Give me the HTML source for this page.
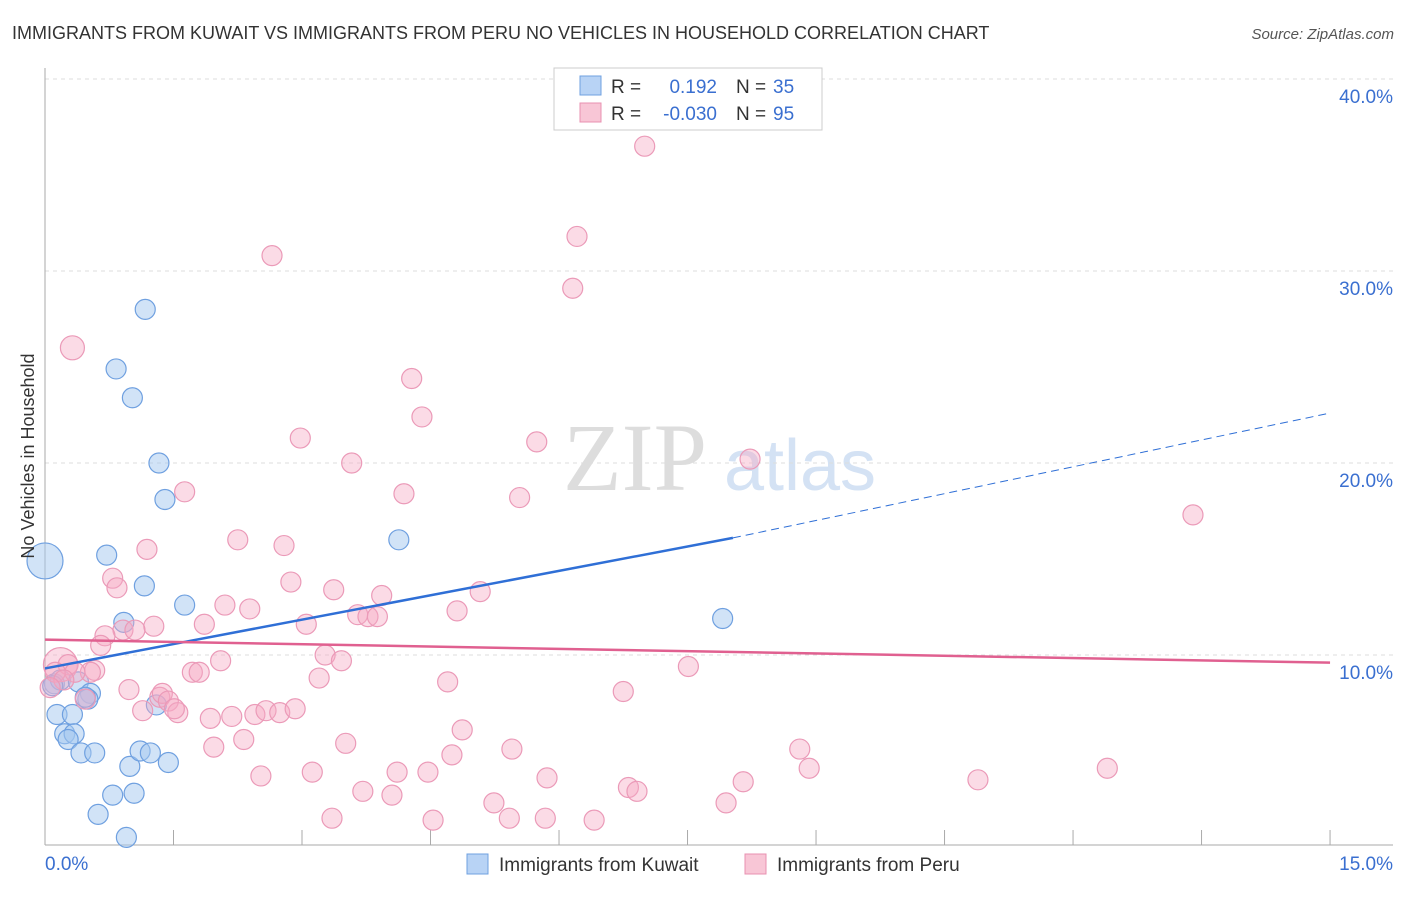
<!DOCTYPE html>
<html><head><meta charset="utf-8"><style>
body{margin:0;background:#fff;font-family:"Liberation Sans",sans-serif;}
</style></head><body>
<svg id="chart" width="1406" height="892" xmlns="http://www.w3.org/2000/svg" font-family="Liberation Sans, sans-serif">
<text x="12" y="39" font-size="18" fill="#333">IMMIGRANTS FROM KUWAIT VS IMMIGRANTS FROM PERU NO VEHICLES IN HOUSEHOLD CORRELATION CHART</text>
<text x="1394" y="39" font-size="15" fill="#555" font-style="italic" text-anchor="end">Source: ZipAtlas.com</text>
<g>
<text x="635" y="490" font-size="96" fill="#ddd" font-family="Liberation Serif, serif" text-anchor="middle">ZIP</text>
<text x="800" y="490" font-size="72" fill="#d4e2f4" text-anchor="middle">atlas</text>
</g>
<g id="grid"></g>
<g id="axes"></g>
<g id="marks"></g>
<g id="trends"></g>
<text transform="translate(34,456) rotate(-90)" font-size="18" fill="#333" text-anchor="middle">No Vehicles in Household</text>
<g>
<rect x="554" y="68" width="268" height="62" fill="#fff" stroke="#ccc"/>
<rect x="580" y="76" width="21" height="19" fill="#b8d3f5" stroke="#6fa0e0"/>
<rect x="580" y="103" width="21" height="19" fill="#f8c6d6" stroke="#e890b0"/>
<text x="611" y="93" font-size="19" fill="#333">R = </text><text x="717" y="93" font-size="19" fill="#3a6fd0" text-anchor="end">0.192</text>
<text x="736" y="93" font-size="19" fill="#333">N = </text><text x="773" y="93" font-size="19" fill="#3a6fd0">35</text>
<text x="611" y="120" font-size="19" fill="#333">R = </text><text x="717" y="120" font-size="19" fill="#3a6fd0" text-anchor="end">-0.030</text>
<text x="736" y="120" font-size="19" fill="#333">N = </text><text x="773" y="120" font-size="19" fill="#3a6fd0">95</text>
</g>
<g>
<rect x="467" y="854" width="21" height="20" fill="#b8d3f5" stroke="#6fa0e0"/>
<text x="499" y="871" font-size="19" fill="#333">Immigrants from Kuwait</text>
<rect x="745" y="854" width="21" height="20" fill="#f8c6d6" stroke="#e890b0"/>
<text x="777" y="871" font-size="19" fill="#333">Immigrants from Peru</text>
</g>
<text x="45" y="870" font-size="19" fill="#3a6fd0">0.0%</text>
<text x="1393" y="870" font-size="19" fill="#3a6fd0" text-anchor="end">15.0%</text>
</svg>
<script>
const yTicks=[10,20,30,40];
const yTickLabels=["10.0%","20.0%","30.0%","40.0%"];
const xTicks=[0,1.5,3,4.5,6,7.5,9,10.5,12,13.5,15];
const kuwaitX=[1.17,0.83,1.02,1.33,1.40,0.72,1.16,1.63,0.92,4.13,7.91,0,0.11,0.18,0.39,0.53,0.50,0.14,0.32,0.23,0.34,0.27,0.42,0.58,0.99,1.11,1.23,1.44,1.30,0.79,1.04,0.62,0.95,0.09,0.47];
const kuwaitY=[28.0,24.9,23.4,20.0,18.1,15.2,13.6,12.6,11.7,16.0,11.9,14.9,8.5,8.7,8.6,8.0,7.7,6.9,6.9,5.9,5.9,5.6,4.9,4.9,4.2,5.0,4.9,4.4,7.4,2.7,2.8,1.7,0.5,8.4,7.8];
const peruX=[7.00,6.21,2.65,6.16,0.32,4.28,4.40,2.98,5.74,3.58,8.23,4.19,5.54,1.63,13.40,1.19,2.25,2.79,0.79,2.87,3.37,0.84,3.93,2.10,2.39,5.08,4.81,3.65,3.77,3.88,1.27,1.86,3.05,0.91,1.05,0.70,0.65,3.27,3.46,2.05,7.51,0.58,0.53,1.72,1.80,0.18,0.27,3.20,4.70,0.98,1.34,1.37,6.75,0.47,1.44,1.14,1.55,1.51,1.93,2.18,2.45,2.58,2.74,2.92,4.87,3.51,1.97,2.32,5.45,4.75,8.81,8.92,12.40,2.52,3.12,4.11,4.47,5.86,8.15,10.89,3.71,4.05,6.81,6.91,5.24,7.95,3.35,4.53,5.42,5.84,6.41,0.12,0.35,0.22,0.06];
const peruY=[36.5,31.8,30.8,29.1,26.0,24.4,22.4,21.3,21.1,20.0,20.2,18.4,18.2,18.5,17.3,15.5,16.0,15.7,14.0,13.8,13.4,13.5,13.1,12.6,12.4,13.3,12.3,12.1,12.0,12.0,11.5,11.6,11.6,11.3,11.3,11.0,10.5,10.0,9.7,9.7,9.4,9.2,9.1,9.1,9.1,9.5,9.5,8.8,8.6,8.2,7.8,8.0,8.1,7.7,7.6,7.1,7.0,7.2,6.7,6.8,6.9,7.1,7.0,7.2,6.1,5.4,5.2,5.6,5.1,4.8,5.1,4.1,4.1,3.7,3.9,3.9,3.9,3.6,3.4,3.5,2.9,2.7,3.1,2.9,2.3,2.3,1.5,1.4,1.5,1.5,1.4,9.1,9.1,8.7,8.3];
const kuwaitTrend=[9.3,16.1,22.6]; // at x=0, 8.03, 15
const kuwaitTrendX=[0,8.03,15];
const peruTrend=[10.8,9.6];
const NS="http://www.w3.org/2000/svg";
const sx=v=>45+v*85.67, sy=v=>847-v*19.2;
function mk(tag,attrs,parent){const e=document.createElementNS(NS,tag);for(const k in attrs)e.setAttribute(k,attrs[k]);document.getElementById(parent).appendChild(e);return e;}
yTicks.forEach((t,i)=>{
 const l=mk('line',{x1:45,x2:1393,y1:sy(t),y2:sy(t),stroke:'#ddd','stroke-dasharray':'4,4'},'grid');
 
 
 const tx=mk('text',{x:1393,y:sy(t)+24,'font-size':19,fill:'#3a6fd0','text-anchor':'end'},'grid');
 tx.textContent=yTickLabels[i];
 
 
});
let a=mk('line',{x1:45,x2:45,y1:68,y2:845,stroke:'#aaa'},'axes');


a=mk('line',{x1:45,x2:1393,y1:845,y2:845,stroke:'#aaa'},'axes');


xTicks.forEach(t=>{const e=mk('line',{x1:sx(t),x2:sx(t),y1:830,y2:845,stroke:'#aaa'},'axes');
 
 });
kuwaitX.forEach((x,i)=>{const big=(x===0&&kuwaitY[i]>14);
 const c=mk('circle',{cx:sx(x),cy:sy(kuwaitY[i]),r:big?18:10,fill:'rgba(164,200,240,0.5)',stroke:'#6fa0e0','stroke-width':1.2},'marks');
 
 });
peruX.forEach((x,i)=>{const big=(i===45||i===4);
 const c=mk('circle',{cx:sx(x),cy:sy(peruY[i]),r:big?(i===45?17:12):10,fill:'rgba(245,170,195,0.42)',stroke:'#eb9ab8','stroke-width':1.2},'marks');
 
 });
let t=mk('line',{x1:sx(kuwaitTrendX[0]),y1:sy(kuwaitTrend[0]),x2:sx(kuwaitTrendX[1]),y2:sy(kuwaitTrend[1]),stroke:'#2f6fd6','stroke-width':2.5},'trends');


t=mk('line',{x1:sx(kuwaitTrendX[1]),y1:sy(kuwaitTrend[1]),x2:sx(kuwaitTrendX[2]),y2:sy(kuwaitTrend[2]),stroke:'#2f6fd6','stroke-width':1,'stroke-dasharray':'8,5'},'trends');


t=mk('line',{x1:sx(0),y1:sy(peruTrend[0]),x2:sx(15),y2:sy(peruTrend[1]),stroke:'#e06090','stroke-width':2.5},'trends');


</script>
</body></html>
